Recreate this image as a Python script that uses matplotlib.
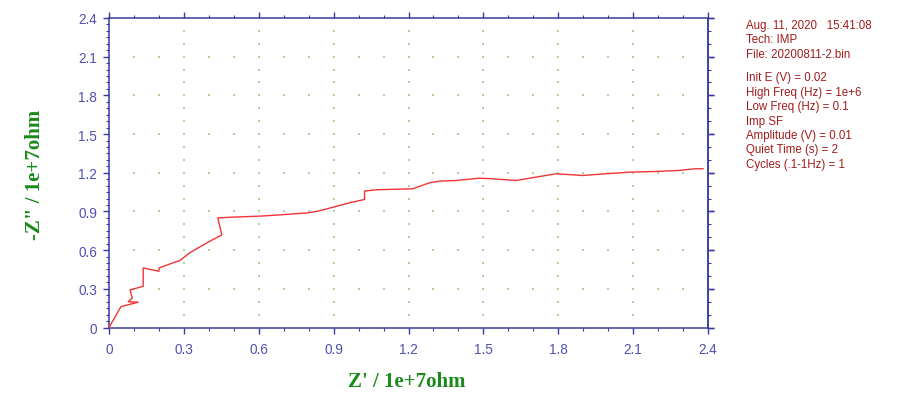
import numpy as np
import matplotlib
matplotlib.use("Agg")
import matplotlib.pyplot as plt
from matplotlib.ticker import MultipleLocator, FuncFormatter

# ---- data (Z' and -Z'' in units of 1e7 ohm) ----
z_real = [0.0, 0.048, 0.117, 0.077, 0.093, 0.084, 0.137, 0.137, 0.200, 0.201,
          0.264, 0.284, 0.324, 0.397, 0.452, 0.436, 0.497, 0.610, 0.704, 0.797,
          0.837, 0.924, 0.964, 1.024, 1.024, 1.071, 1.217, 1.284, 1.324, 1.391,
          1.484, 1.537, 1.631, 1.671, 1.791, 1.897, 1.991, 2.091, 2.191, 2.284,
          2.351, 2.380]
z_imag = [0.0, 0.162, 0.196, 0.200, 0.227, 0.291, 0.320, 0.462, 0.436, 0.462,
          0.507, 0.519, 0.580, 0.662, 0.718, 0.850, 0.856, 0.864, 0.876, 0.889,
          0.902, 0.946, 0.967, 0.993, 1.058, 1.068, 1.076, 1.122, 1.135, 1.140,
          1.158, 1.153, 1.140, 1.153, 1.192, 1.179, 1.192, 1.205, 1.210, 1.218,
          1.231, 1.231]

x_label = "Z' / 1e+7ohm"
y_label = '-Z" / 1e+7ohm'
info_header = ["Aug. 11, 2020   15:41:08", "Tech: IMP", "File: 20200811-2.bin"]
info_params = ["Init E (V) = 0.02", "High Freq (Hz) = 1e+6", "Low Freq (Hz) = 0.1",
               "Imp SF", "Amplitude (V) = 0.01", "Quiet Time (s) = 2",
               "Cycles (.1-1Hz) = 1"]

axis_col = "#3a3aa0"
tick_col = "#5050b0"
label_col = "#1a8a1a"
info_col = "#a01c1c"
grid_col = "#b2d296"

fig = plt.figure(figsize=(9.0, 4.02), dpi=100)
ax = fig.add_axes([109/900, 1 - 328.5/402, (708-109)/900, (328.5-19)/402])

xmax, ymax = 2.4, 2.4
ax.set_xlim(0, xmax)
ax.set_ylim(0, ymax)

# dotted grid: vertical lines at major x, dots every 0.1 in y; horizontal lines at major y, dots every 0.1 in x
majors = np.arange(0.3, 2.4 - 1e-9, 0.3)
fine = np.arange(0.1, 2.4 - 1e-9, 0.1)
gx, gy = np.meshgrid(majors, fine)
ax.scatter(gx.ravel(), gy.ravel(), s=0.9, color=grid_col, marker='s', linewidths=0, zorder=1)
hx, hy = np.meshgrid(fine, majors)
ax.scatter(hx.ravel(), hy.ravel(), s=0.9, color=grid_col, marker='s', linewidths=0, zorder=1)

ax.plot(z_real, z_imag, color="#f03434", lw=1.0, zorder=3, clip_on=False)

for s in ax.spines.values():
    s.set_color(axis_col)
    s.set_linewidth(1.1)

fmt = FuncFormatter(lambda v, p: "0" if abs(v) < 1e-9 else f"{v:.1f}")
ax.xaxis.set_major_locator(MultipleLocator(0.3))
ax.yaxis.set_major_locator(MultipleLocator(0.3))
ax.xaxis.set_minor_locator(MultipleLocator(0.1))
ax.yaxis.set_minor_locator(MultipleLocator(0.05))
ax.xaxis.set_major_formatter(fmt)
ax.yaxis.set_major_formatter(fmt)
ax.tick_params(which='both', direction='out', color=axis_col, top=True, right=True,
               labeltop=False, labelright=False)
ax.tick_params(which='major', length=4.5, width=1.0, labelsize=9.8, labelcolor=tick_col, pad=4)
ax.tick_params(axis='x', which='major', pad=6)
ax.tick_params(which='minor', length=2.5, width=0.8)
for lab in ax.get_xticklabels() + ax.get_yticklabels():
    lab.set_fontfamily("Liberation Sans")

# right axis has minor ticks every 0.1 only
ax.tick_params(axis='y', which='minor', right=False)
ax2 = ax.secondary_yaxis('right')
ax2.yaxis.set_major_locator(MultipleLocator(0.3))
ax2.yaxis.set_minor_locator(MultipleLocator(0.1))
ax2.tick_params(which='both', direction='out', color=axis_col, labelright=False)
ax2.tick_params(which='major', length=4.5, width=1.0)
ax2.tick_params(which='minor', length=2.5, width=0.8)
ax2.spines['right'].set_color(axis_col)
ax2.spines['right'].set_linewidth(1.1)

fig.text(407/900, 1 - 382/402, x_label, family="Liberation Serif", weight="bold",
         fontsize=15, color=label_col, ha='center', va='center')
fig.text(35/900, 1 - 175/402, y_label, family="Liberation Serif", weight="bold",
         fontsize=15, color=label_col, ha='center', va='center', rotation=90)

y0 = 26
step = 14.4
for i, line in enumerate(info_header):
    fig.text(746/900, 1 - (y0 + i*step)/402, line, family="Liberation Sans",
             fontsize=8.3, color=info_col, ha='left', va='center')
y1 = 78.3
for i, line in enumerate(info_params):
    fig.text(746/900, 1 - (y1 + i*step)/402, line, family="Liberation Sans",
             fontsize=8.3, color=info_col, ha='left', va='center')

fig.savefig("out.png", dpi=100, facecolor="white")
